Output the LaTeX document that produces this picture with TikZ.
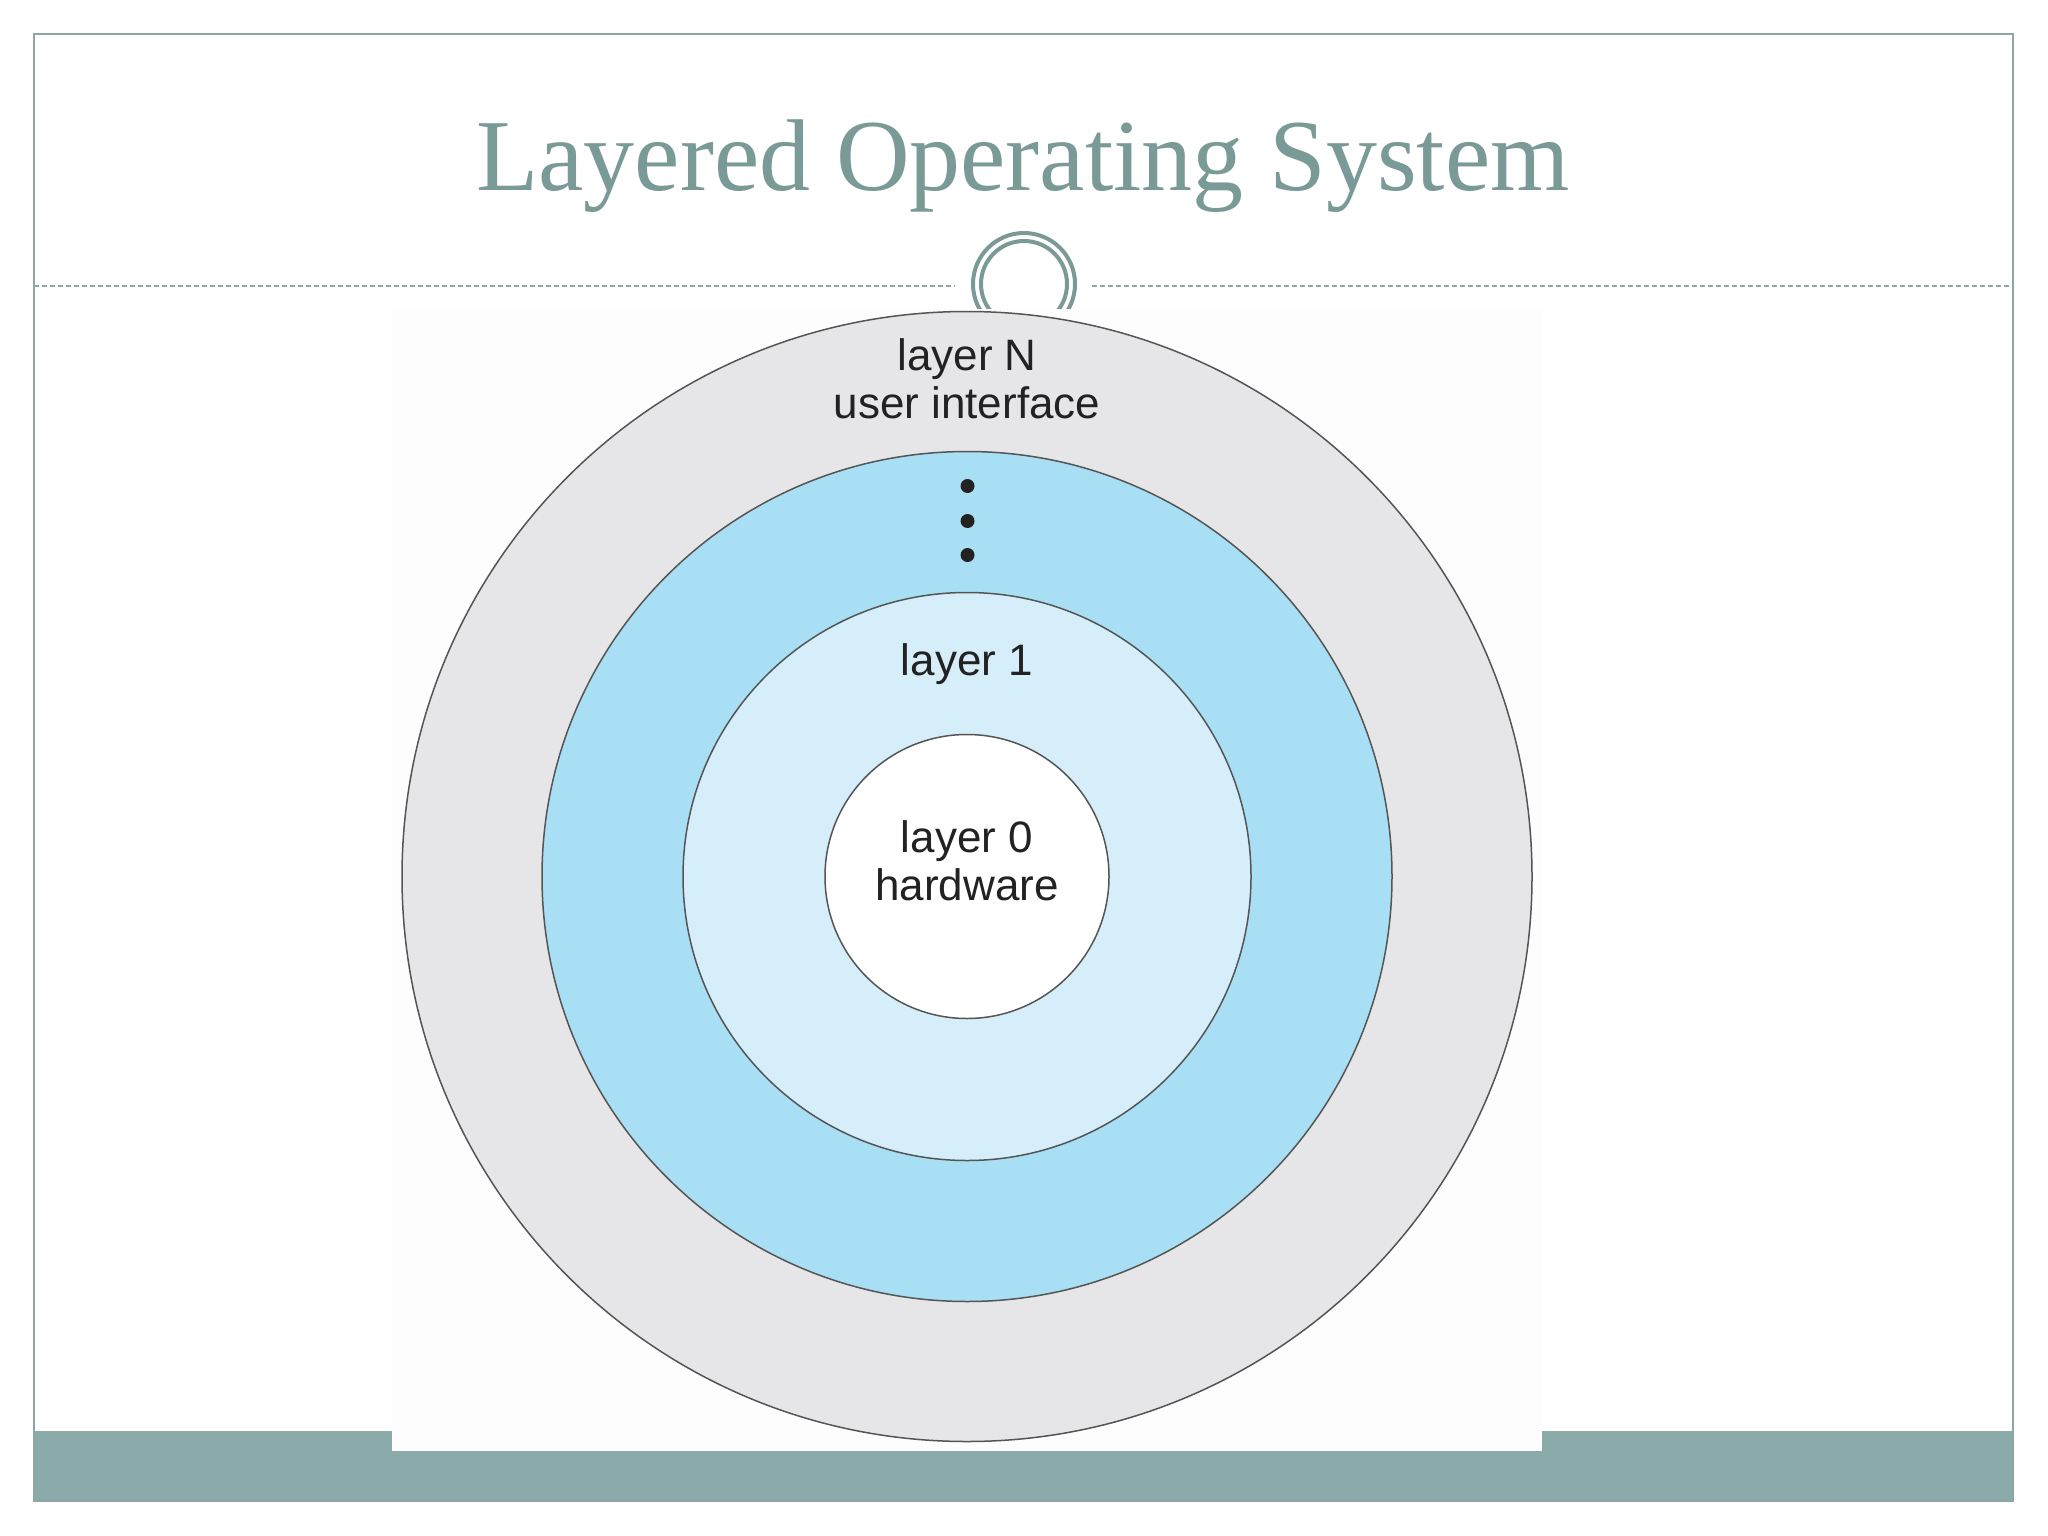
\documentclass[tikz,border=0pt]{standalone}
\usepackage{fontspec}
\setmainfont{Liberation Serif}
\newfontfamily\labelfont{Liberation Sans}
\definecolor{slideteal}{RGB}{122,154,151}
\definecolor{barteal}{RGB}{139,170,170}
\definecolor{framegray}{RGB}{143,166,164}
\definecolor{ringgray}{RGB}{230,230,232}
\definecolor{ringblue}{RGB}{168,223,245}
\definecolor{ringlight}{RGB}{213,238,250}
\definecolor{edgegray}{RGB}{85,85,85}
\definecolor{inktext}{RGB}{34,34,34}
\definecolor{imgwhite}{RGB}{253,253,253}
\begin{document}
\begin{tikzpicture}[x=1pt,y=-1pt,
  ring/.style={circle, draw=edgegray, line width=1.5pt, inner sep=0pt},
  lbl/.style={font=\labelfont\fontsize{44}{48}\selectfont, text=inktext, align=center, inner sep=0pt, anchor=base},
  dotmark/.style={circle, fill=inktext, inner sep=0pt, minimum size=14pt}]
\useasboundingbox (0,0) rectangle (2048,1536);
\fill[white] (0,0) rectangle (2048,1536);
% bottom bar and frame
\fill[barteal] (33.5,1431) rectangle (2013,1501);
\draw[framegray, line width=2pt] (33.5,34) rectangle (2013,1501);
% dashed separator
\draw[framegray, line width=2pt, dash pattern=on 5pt off 3pt] (33.5,285.5) -- (955,285.5);
\draw[framegray, line width=2pt, dash pattern=on 5pt off 3pt] (1092,285.5) -- (2013,285.5);
% ornament
\draw[slideteal, line width=4pt] (1024,284) circle (51);
\draw[slideteal, line width=4pt] (1024,284) circle (43);
% title
\node[font=\fontsize{102}{108}\selectfont, text=slideteal, anchor=base, inner sep=0pt] (title) at (1023,190) {Layered Operating System};
% image area
\fill[imgwhite] (392,309) rectangle (1542,1451);
% rings
\node[ring, fill=ringgray, minimum size=1130pt] (layerN) at (967,876.5) {};
\node[ring, fill=ringblue, minimum size=850pt] (mid) at (967,876.5) {};
\node[ring, fill=ringlight, minimum size=568pt] (layer1) at (967,876.5) {};
\node[ring, fill=white, minimum size=284pt] (layer0) at (967,876.5) {};
% labels (base anchor = baseline of last line)
\node[lbl] (tN) at (967,418) {layer N\\user interface};
\node[lbl] (t1) at (967,675) {layer 1};
\node[lbl] (t0) at (967,900) {layer 0\\hardware};
% dots
\node[dotmark] (d1) at (967.5,486) {};
\node[dotmark] (d2) at (967.5,521) {};
\node[dotmark] (d3) at (967.5,555) {};
\end{tikzpicture}
\end{document}
